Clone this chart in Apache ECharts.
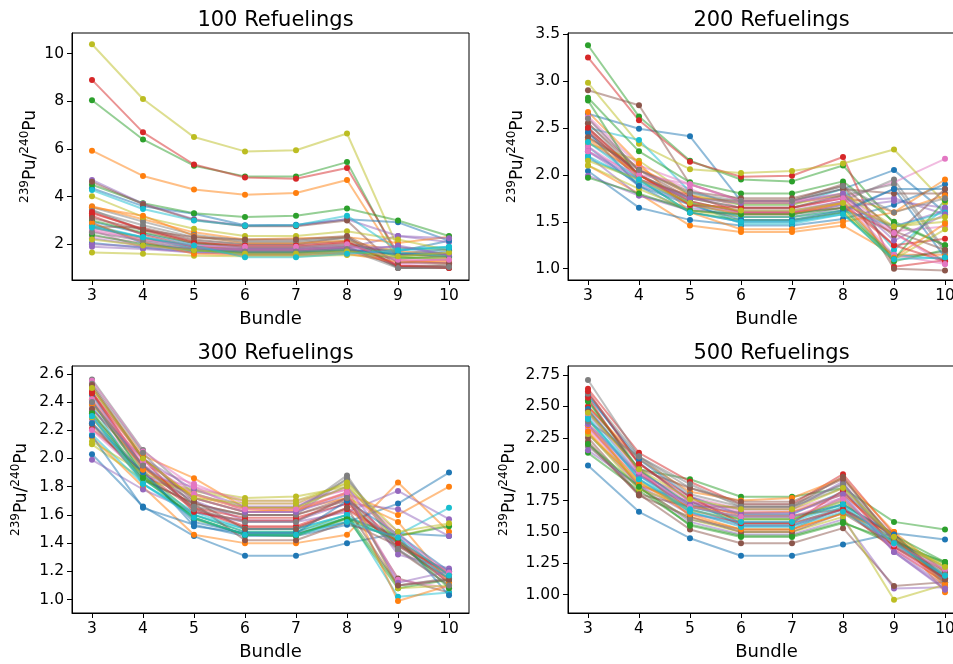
<!DOCTYPE html>
<html>
<head>
<meta charset="utf-8">
<script src="https://cdn.jsdelivr.net/npm/echarts@6/dist/echarts.min.js"></script>
<style>
  html, body { margin: 0; padding: 0; background: #fff; }
  #chart { width: 953px; height: 664px; }
</style>
</head>
<body>
<div id="chart"></div>
<script>
// Bundle positions along the x axis
const bundles = [3, 4, 5, 6, 7, 8, 9, 10];

// 239Pu/240Pu ratio per bundle, one row per simulated case
const refuel100 = [
  [2.95, 2.45, 2.0, 1.85, 1.85, 1.95, 1.7, 2.15],
  [5.93, 4.87, 4.3, 4.08, 4.15, 4.7, 1.35, 1.2],
  [8.05, 6.4, 5.3, 4.85, 4.85, 5.45, 1.45, 1.35],
  [8.9, 6.7, 5.35, 4.8, 4.75, 5.2, 1.6, 1.55],
  [2.25, 1.95, 1.8, 1.75, 1.75, 1.85, 2.35, 2.1],
  [2.75, 2.7, 2.2, 2.0, 2.0, 2.3, 1.05, 1.02],
  [2.55, 2.2, 1.95, 1.85, 1.85, 1.95, 1.3, 1.35],
  [3.45, 2.6, 2.15, 2.0, 2.0, 2.15, 1.0, 1.05],
  [10.4, 8.1, 6.5, 5.9, 5.95, 6.65, 1.85, 1.75],
  [2.75, 2.3, 1.85, 1.6, 1.6, 1.7, 1.8, 1.9],
  [4.35, 3.6, 3.28, 2.8, 2.82, 3.05, 2.92, 2.15],
  [3.6, 3.05, 2.5, 2.2, 2.25, 2.3, 2.05, 2.32],
  [4.5, 3.72, 3.3, 3.15, 3.2, 3.5, 3.0, 2.35],
  [3.3, 2.65, 2.1, 1.9, 1.9, 2.05, 1.6, 1.45],
  [4.7, 3.7, 3.05, 2.78, 2.78, 3.05, 2.35, 2.25],
  [4.62, 3.68, 3.02, 2.76, 2.76, 3.0, 1.0, 1.0],
  [2.6, 1.85, 1.65, 1.6, 1.6, 1.7, 1.2, 1.4],
  [3.55, 2.95, 2.4, 2.15, 2.15, 2.3, 1.05, 1.1],
  [4.02, 3.15, 2.65, 2.35, 2.35, 2.55, 2.2, 1.75],
  [4.28, 3.48, 3.0, 2.78, 2.8, 3.2, 1.75, 1.9],
  [2.05, 1.85, 1.7, 1.65, 1.65, 1.75, 1.6, 1.8],
  [3.55, 3.2, 2.35, 2.05, 2.05, 2.15, 1.7, 1.6],
  [3.0, 2.5, 2.05, 1.9, 1.9, 2.0, 1.5, 1.6],
  [3.2, 2.4, 1.9, 1.75, 1.75, 1.85, 1.1, 1.05],
  [1.9, 1.8, 1.65, 1.6, 1.6, 1.65, 1.95, 1.55],
  [2.7, 2.25, 1.9, 1.8, 1.8, 1.9, 1.05, 1.15],
  [2.35, 2.05, 1.85, 1.75, 1.75, 1.85, 1.15, 1.25],
  [3.4, 2.8, 2.3, 2.1, 2.1, 2.25, 1.02, 1.0],
  [1.65, 1.6, 1.52, 1.5, 1.5, 1.55, 1.45, 1.4],
  [2.8, 2.3, 1.8, 1.55, 1.55, 1.65, 1.65, 1.5],
  [2.9, 2.05, 1.75, 1.7, 1.7, 1.8, 1.55, 1.7],
  [2.9, 2.1, 1.6, 1.55, 1.55, 1.6, 1.25, 1.3],
  [2.4, 2.0, 1.75, 1.65, 1.65, 1.75, 1.4, 1.5],
  [3.35, 2.6, 2.05, 1.95, 1.95, 2.1, 1.1, 1.0],
  [2.0, 1.9, 1.8, 1.8, 1.8, 1.85, 1.9, 1.55],
  [3.1, 2.6, 2.3, 2.2, 2.2, 2.35, 1.25, 1.2],
  [2.65, 2.15, 1.95, 1.9, 1.9, 2.0, 1.35, 1.35],
  [2.5, 2.15, 1.8, 1.7, 1.7, 1.8, 1.0, 1.05],
  [2.2, 1.95, 1.75, 1.6, 1.6, 1.7, 1.5, 1.65],
  [2.7, 2.3, 1.95, 1.45, 1.45, 1.6, 1.75, 1.85]
];

const refuel200 = [
  [2.65, 2.49, 2.41, 1.72, 1.72, 1.85, 2.05, 1.6],
  [2.1, 1.8, 1.46, 1.39, 1.39, 1.46, 1.15, 1.15],
  [3.38, 2.62, 2.15, 1.95, 1.93, 2.1, 1.48, 1.25],
  [3.25, 2.58, 2.14, 1.98, 1.99, 2.19, 1.02, 1.09],
  [2.25, 1.9, 1.7, 1.62, 1.62, 1.72, 1.75, 1.58],
  [2.9, 2.74, 1.9, 1.73, 1.73, 1.9, 1.0, 0.98],
  [2.6, 2.05, 1.85, 1.64, 1.64, 1.75, 1.92, 2.17],
  [2.55, 2.0, 1.72, 1.6, 1.6, 1.72, 1.95, 1.2],
  [2.98, 2.33, 2.06, 2.02, 2.04, 2.12, 2.27, 1.7],
  [2.5, 2.37, 1.82, 1.68, 1.68, 1.85, 1.2, 1.65],
  [2.04, 1.65, 1.52, 1.46, 1.46, 1.53, 1.68, 1.9],
  [2.4, 2.08, 1.78, 1.7, 1.7, 1.78, 1.6, 1.95],
  [2.82, 2.25, 1.92, 1.8, 1.8, 1.93, 1.5, 1.25],
  [2.45, 2.0, 1.72, 1.6, 1.6, 1.7, 1.25, 1.32],
  [2.2, 1.78, 1.65, 1.55, 1.55, 1.65, 1.72, 1.65],
  [2.5, 2.0, 1.75, 1.72, 1.72, 1.85, 1.8, 1.8],
  [2.62, 2.1, 1.9, 1.72, 1.72, 1.8, 1.4, 1.45],
  [2.35, 2.0, 1.7, 1.58, 1.58, 1.68, 1.12, 1.18],
  [2.33, 2.15, 1.78, 1.68, 1.68, 1.8, 1.45, 1.5],
  [2.17, 1.95, 1.7, 1.48, 1.48, 1.58, 1.15, 1.1],
  [2.3, 1.88, 1.6, 1.5, 1.5, 1.6, 1.85, 1.85],
  [2.67, 2.12, 1.6, 1.42, 1.42, 1.5, 1.6, 1.78],
  [2.79, 1.95, 1.6, 1.52, 1.52, 1.6, 1.08, 1.2],
  [2.48, 1.95, 1.78, 1.6, 1.6, 1.65, 1.38, 1.08],
  [1.99, 1.78, 1.62, 1.58, 1.58, 1.68, 1.45, 1.62],
  [2.55, 2.05, 1.75, 1.65, 1.65, 1.78, 1.35, 1.85],
  [2.3, 1.95, 1.68, 1.6, 1.6, 1.72, 1.15, 1.05],
  [2.45, 2.0, 1.75, 1.65, 1.65, 1.78, 1.9, 1.18],
  [2.1, 1.85, 1.62, 1.55, 1.55, 1.62, 1.1, 1.42],
  [2.2, 1.92, 1.7, 1.55, 1.55, 1.62, 1.45, 1.6],
  [2.45, 1.88, 1.68, 1.52, 1.52, 1.62, 1.85, 1.12],
  [2.38, 2.0, 1.68, 1.58, 1.58, 1.7, 1.12, 1.48],
  [1.97, 1.8, 1.62, 1.58, 1.58, 1.65, 1.1, 1.73],
  [2.5, 2.0, 1.68, 1.65, 1.65, 1.75, 1.25, 1.08],
  [2.25, 1.95, 1.75, 1.7, 1.7, 1.8, 1.3, 1.58],
  [2.4, 2.05, 1.82, 1.75, 1.75, 1.88, 1.4, 1.2],
  [2.25, 2.0, 1.9, 1.72, 1.72, 1.75, 1.38, 1.05],
  [2.6, 2.05, 1.8, 1.72, 1.72, 1.88, 1.6, 1.75],
  [2.15, 1.95, 1.7, 1.62, 1.62, 1.7, 1.45, 1.55],
  [2.35, 1.95, 1.6, 1.5, 1.5, 1.58, 1.1, 1.12]
];

const refuel300 = [
  [2.03, 1.66, 1.45, 1.31, 1.31, 1.4, 1.47, 1.45],
  [2.15, 1.8, 1.46, 1.4, 1.4, 1.46, 1.83, 1.48],
  [2.4, 1.9, 1.6, 1.48, 1.48, 1.6, 1.1, 1.15],
  [2.47, 1.95, 1.65, 1.52, 1.52, 1.65, 1.42, 1.18],
  [1.99, 1.78, 1.62, 1.55, 1.55, 1.62, 1.77, 1.57],
  [2.25, 1.85, 1.68, 1.6, 1.6, 1.7, 1.35, 1.1],
  [2.3, 1.95, 1.82, 1.68, 1.68, 1.78, 1.1, 1.15],
  [2.56, 2.06, 1.75, 1.65, 1.65, 1.85, 1.4, 1.12],
  [2.1, 1.85, 1.78, 1.72, 1.73, 1.8, 1.45, 1.53],
  [2.17, 1.82, 1.6, 1.48, 1.48, 1.58, 1.46, 1.65],
  [2.45, 1.92, 1.52, 1.47, 1.47, 1.55, 1.68, 1.9],
  [2.5, 2.02, 1.86, 1.65, 1.65, 1.75, 1.6, 1.8],
  [2.33, 1.88, 1.58, 1.46, 1.46, 1.58, 1.45, 1.52],
  [2.21, 1.9, 1.64, 1.51, 1.51, 1.64, 1.4, 1.12],
  [2.28, 1.9, 1.7, 1.56, 1.56, 1.68, 1.64, 1.45],
  [2.24, 1.85, 1.68, 1.6, 1.6, 1.72, 1.15, 1.05],
  [2.2, 1.88, 1.8, 1.7, 1.7, 1.78, 1.48, 1.12],
  [2.5, 2.0, 1.72, 1.62, 1.62, 1.88, 1.35, 1.15],
  [2.29, 1.84, 1.77, 1.7, 1.7, 1.82, 1.4, 1.18],
  [2.38, 1.82, 1.6, 1.5, 1.5, 1.6, 1.02, 1.05],
  [2.16, 1.65, 1.53, 1.45, 1.45, 1.53, 1.45, 1.03],
  [2.38, 2.0, 1.72, 1.62, 1.64, 1.72, 1.55, 1.12],
  [2.41, 1.88, 1.57, 1.46, 1.45, 1.58, 1.08, 1.14],
  [2.46, 1.94, 1.65, 1.58, 1.58, 1.68, 1.38, 1.2],
  [2.35, 2.0, 1.78, 1.66, 1.66, 1.8, 1.32, 1.22],
  [2.35, 1.95, 1.68, 1.42, 1.42, 1.55, 1.38, 1.15],
  [2.55, 2.05, 1.8, 1.62, 1.62, 1.76, 1.14, 1.08],
  [2.53, 2.04, 1.66, 1.6, 1.6, 1.86, 1.42, 1.18],
  [2.12, 1.9, 1.75, 1.65, 1.65, 1.8, 1.08, 1.1],
  [2.3, 1.85, 1.62, 1.5, 1.5, 1.6, 1.4, 1.15],
  [2.25, 1.9, 1.55, 1.47, 1.47, 1.7, 1.46, 1.2],
  [2.42, 1.92, 1.74, 1.64, 1.63, 1.76, 0.99, 1.1],
  [2.32, 1.86, 1.58, 1.46, 1.46, 1.57, 1.42, 1.08],
  [2.47, 2.0, 1.62, 1.56, 1.56, 1.72, 1.4, 1.17],
  [2.4, 1.95, 1.72, 1.62, 1.62, 1.74, 1.12, 1.2],
  [2.52, 2.0, 1.7, 1.5, 1.5, 1.65, 1.1, 1.14],
  [2.42, 1.98, 1.75, 1.64, 1.64, 1.76, 1.45, 1.19],
  [2.4, 1.95, 1.64, 1.55, 1.55, 1.72, 1.36, 1.1],
  [2.5, 2.0, 1.72, 1.68, 1.68, 1.83, 1.48, 1.54],
  [2.3, 1.82, 1.58, 1.46, 1.46, 1.55, 1.44, 1.17]
];

const refuel500 = [
  [2.03, 1.66, 1.45, 1.31, 1.31, 1.4, 1.49, 1.44],
  [2.47, 2.0, 1.62, 1.52, 1.52, 1.65, 1.5, 1.02],
  [2.55, 2.0, 1.92, 1.78, 1.78, 1.85, 1.58, 1.52],
  [2.64, 2.13, 1.9, 1.72, 1.72, 1.96, 1.48, 1.12],
  [2.35, 1.87, 1.58, 1.48, 1.48, 1.6, 1.05, 1.06],
  [2.25, 1.8, 1.52, 1.41, 1.41, 1.53, 1.07, 1.1],
  [2.32, 1.92, 1.65, 1.55, 1.55, 1.68, 1.38, 1.2],
  [2.71, 2.1, 1.85, 1.72, 1.72, 1.88, 1.46, 1.14],
  [2.4, 1.85, 1.6, 1.5, 1.5, 1.62, 0.96, 1.08],
  [2.45, 1.95, 1.7, 1.6, 1.6, 1.75, 1.42, 1.15],
  [2.6, 2.05, 1.75, 1.55, 1.55, 1.68, 1.45, 1.08],
  [2.5, 2.08, 1.82, 1.75, 1.77, 1.93, 1.5, 1.18],
  [2.13, 1.83, 1.56, 1.47, 1.47, 1.58, 1.4, 1.26],
  [2.5, 2.05, 1.74, 1.63, 1.63, 1.68, 1.36, 1.1],
  [2.28, 1.87, 1.64, 1.58, 1.58, 1.78, 1.35, 1.07],
  [2.22, 1.79, 1.62, 1.5, 1.5, 1.65, 1.4, 1.13],
  [2.33, 1.95, 1.78, 1.68, 1.68, 1.8, 1.44, 1.22],
  [2.18, 1.85, 1.6, 1.52, 1.52, 1.7, 1.38, 1.15],
  [2.29, 1.84, 1.7, 1.62, 1.62, 1.74, 1.42, 1.22],
  [2.4, 1.95, 1.66, 1.56, 1.56, 1.7, 1.42, 1.16],
  [2.58, 2.08, 1.78, 1.64, 1.64, 1.82, 1.45, 1.1],
  [2.35, 1.9, 1.64, 1.52, 1.52, 1.65, 1.48, 1.06],
  [2.54, 1.99, 1.72, 1.6, 1.6, 1.72, 1.47, 1.26],
  [2.57, 1.97, 1.68, 1.57, 1.57, 1.68, 1.48, 1.13],
  [2.15, 1.87, 1.74, 1.68, 1.68, 1.9, 1.34, 1.04],
  [2.2, 1.8, 1.7, 1.7, 1.7, 1.94, 1.42, 1.18],
  [2.36, 1.97, 1.75, 1.66, 1.66, 1.77, 1.36, 1.12],
  [2.6, 2.1, 1.8, 1.7, 1.7, 1.85, 1.44, 1.2],
  [2.28, 1.9, 1.67, 1.6, 1.6, 1.76, 1.4, 1.24],
  [2.42, 1.92, 1.66, 1.54, 1.54, 1.66, 1.42, 1.14],
  [2.48, 2.0, 1.7, 1.62, 1.62, 1.72, 1.48, 1.1],
  [2.3, 1.88, 1.7, 1.65, 1.66, 1.8, 1.46, 1.09],
  [2.2, 1.86, 1.55, 1.46, 1.46, 1.57, 1.43, 1.25],
  [2.62, 2.04, 1.78, 1.57, 1.57, 1.83, 1.38, 1.13],
  [2.36, 1.95, 1.72, 1.65, 1.65, 1.8, 1.34, 1.05],
  [2.46, 2.0, 1.85, 1.74, 1.74, 1.92, 1.45, 1.12],
  [2.44, 1.98, 1.7, 1.62, 1.62, 1.76, 1.4, 1.2],
  [2.38, 2.1, 1.88, 1.7, 1.7, 1.88, 1.42, 1.16],
  [2.45, 2.0, 1.76, 1.68, 1.68, 1.85, 1.46, 1.22],
  [2.4, 1.92, 1.68, 1.58, 1.58, 1.72, 1.41, 1.15]
];

const panelTitles = ['100 Refuelings', '200 Refuelings', '300 Refuelings', '500 Refuelings'];
const yTicks = [
  [2, 4, 6, 8, 10],
  [1.0, 1.5, 2.0, 2.5, 3.0, 3.5],
  [1.0, 1.2, 1.4, 1.6, 1.8, 2.0, 2.2, 2.4, 2.6],
  [1.0, 1.25, 1.5, 1.75, 2.0, 2.25, 2.5, 2.75]
];
const yDecimals = [0, 1, 1, 2];
const panels = [refuel100, refuel200, refuel300, refuel500];

// matplotlib "tab10" cycle
const tab10 = ['#1f77b4', '#ff7f0e', '#2ca02c', '#d62728', '#9467bd',
               '#8c564b', '#e377c2', '#7f7f7f', '#bcbd22', '#17becf'];

const FONT = 'DejaVu Sans';

// panel geometry (px); the right-hand panels run past the canvas edge
const grids = [
  { left: 72,  top: 33,  width: 397, height: 247 },
  { left: 568, top: 33,  width: 397, height: 247 },
  { left: 72,  top: 366, width: 397, height: 247 },
  { left: 568, top: 366, width: 397, height: 247 }
];
const yRange = [[0.5, 10.87], [0.88, 3.51], [0.905, 2.655], [0.854, 2.822]];
const yNameGap = [33, 42, 42, 50];

const chart = echarts.init(document.getElementById('chart'), null, { renderer: 'canvas' });

const option = {
  animation: false,
  backgroundColor: '#ffffff',
  title: grids.map((g, i) => ({
    text: panelTitles[i],
    left: g.left + g.width / 2,
    top: i < 2 ? 5 : 338,
    textAlign: 'center',
    textStyle: { fontFamily: FONT, fontSize: 21, fontWeight: 'normal', color: '#000' }
  })),
  grid: grids.map(g => Object.assign({
    show: true, borderColor: '#000', borderWidth: 1, backgroundColor: 'transparent',
    containLabel: false, outerBoundsMode: 'none'
  }, g)),
  xAxis: grids.map((g, i) => ({
    type: 'value',
    gridIndex: i,
    min: 2.608,
    max: 10.392,
    name: 'Bundle',
    nameLocation: 'middle',
    nameGap: 30,
    nameTextStyle: { fontFamily: FONT, fontSize: 18, color: '#000' },
    axisLine: { show: true, onZero: false, lineStyle: { color: '#000', width: 1 } },
    axisTick: { show: true, length: 5, inside: false, customValues: bundles,
                lineStyle: { color: '#000', width: 1 } },
    axisLabel: { show: true, margin: 8, customValues: bundles,
                 fontFamily: FONT, fontSize: 15.5, color: '#000',
                 formatter: v => String(Math.round(v)) },
    splitLine: { show: false }
  })),
  yAxis: grids.map((g, i) => ({
    type: 'value',
    gridIndex: i,
    min: yRange[i][0],
    max: yRange[i][1],
    name: '{s|239}{m|Pu/}{s|240}{m|Pu}',
    nameLocation: 'middle',
    nameGap: yNameGap[i],
    nameRotate: 90,
    nameTextStyle: {
      fontFamily: FONT, color: '#000',
      rich: {
        s: { fontFamily: FONT, fontSize: 12, color: '#000', verticalAlign: 'top', lineHeight: 20 },
        m: { fontFamily: FONT, fontSize: 17, color: '#000', verticalAlign: 'bottom', lineHeight: 20,
             padding: [6, 0, 0, 0] }
      }
    },
    axisLine: { show: true, onZero: false, lineStyle: { color: '#000', width: 1 } },
    axisTick: { show: true, length: 5, inside: false, customValues: yTicks[i],
                lineStyle: { color: '#000', width: 1 } },
    axisLabel: { show: true, margin: 8, customValues: yTicks[i],
                 fontFamily: FONT, fontSize: 15.5, color: '#000',
                 formatter: v => Number(v).toFixed(yDecimals[i]) },
    splitLine: { show: false }
  })),
  series: []
};

panels.forEach((rows, p) => {
  rows.forEach((vals, k) => {
    const c = tab10[k % 10];
    option.series.push({
      type: 'line',
      xAxisIndex: p,
      yAxisIndex: p,
      data: bundles.map((b, j) => [b, vals[j]]),
      symbol: 'circle',
      symbolSize: 6,
      showSymbol: true,
      clip: true,
      color: c,
      lineStyle: { color: c, width: 2, opacity: 0.5 },
      itemStyle: { color: c, opacity: 1, borderWidth: 0 },
      emphasis: { disabled: true },
      silent: true
    });
  });
});

chart.setOption(option);
</script>
</body>
</html>
